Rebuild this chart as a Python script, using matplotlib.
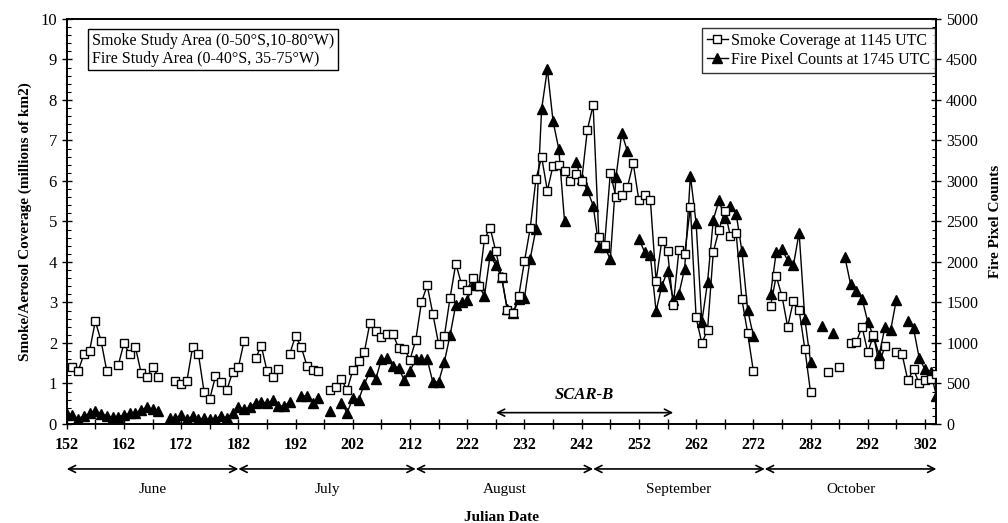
import numpy as np
import matplotlib
matplotlib.use('Agg')
from matplotlib import pyplot as plt
from matplotlib.ticker import MultipleLocator, FixedLocator

plt.rcParams['font.family'] = ['Liberation Serif', 'DejaVu Serif']

nan = np.nan
days = np.arange(152, 305)

# smoke coverage, millions of km2 (day 152 .. 304)
smoke = [
    nan, 1.40, 1.31, 1.72, 1.81, 2.54, 2.05, 1.31, nan, 1.45,
    1.99, 1.72, 1.90, 1.26, 1.15, 1.41, 1.17, nan, nan, 1.06,
    0.99, 1.06, 1.90, 1.74, 0.80, 0.62, 1.18, 1.04, 0.84, 1.29,
    1.40, 2.05, nan, 1.62, 1.93, 1.31, 1.17, 1.37, nan, 1.74,
    2.18, 1.89, 1.43, 1.33, 1.31, nan, 0.84, 0.92, 1.10, 0.84,
    1.33, 1.56, 1.77, 2.50, 2.30, 2.15, 2.23, 2.22, 1.88, 1.85,
    1.59, 2.07, 3.01, 3.42, 2.71, 1.97, 2.17, 3.12, 3.96, 3.45,
    3.32, 3.61, 3.40, 4.56, 4.84, 4.26, 3.63, 2.81, 2.73, 3.16,
    4.02, 4.83, 6.04, 6.59, 5.76, 6.38, 6.40, 6.24, 6.01, 6.17,
    6.01, 7.27, 7.87, 4.61, 4.43, 6.19, 5.60, 5.66, 5.85, 6.44,
    5.52, 5.66, 5.54, 3.53, 4.52, 4.27, 2.93, 4.29, 4.20, 5.35,
    2.63, 1.99, 2.33, 4.24, 4.80, 5.27, 4.63, 4.71, 3.08, 2.25,
    1.31, nan, nan, 2.91, 3.65, 3.16, 2.40, 3.04, 2.81, 1.86,
    0.78, nan, nan, 1.29, nan, 1.41, nan, 2.00, 2.03, 2.40,
    1.77, 2.19, 1.47, 1.93, nan, 1.78, 1.72, 1.08, 1.35, 1.00,
    1.08, 1.10, 1.23,
]

# fire pixel counts (day 152 .. 304)
fire = [
    123, 111, 62, 103, 131, 164, 123, 103, 82, 90,
    111, 131, 139, 172, 205, 181, 164, nan, 70, 70,
    111, 62, 98, 62, 70, 57, 62, 103, 70, 139,
    205, 181, 205, 263, 275, 255, 296, 222, 222, 275,
    nan, 349, 345, 263, 316, nan, 164, nan, 263, 139,
    316, 296, 489, 653, 554, 797, 809, 714, 686, 542,
    657, 797, 797, 797, 513, 521, 767, 1096, 1474, 1500,
    1527, 1712, 1712, 1580, 2080, 1960, 1814, 1420, 1365, 1540,
    1560, 2040, 2405, 3888, 4380, 3735, 3395, 2504, nan, 3230,
    3020, 2885, 2697, 2190, 2190, 2032, 3054, 3592, 3366, nan,
    2287, 2122, 2081, 1395, 1703, 1888, 1536, 1610, 1917, 3066,
    2479, 1260, 1752, 2521, 2759, 2546, 2685, 2595, 2134, 1413,
    1085, nan, nan, 1601, 2122, 2155, 2020, 1958, 2361, 1302,
    767, nan, 1211, nan, 1125, nan, 2060, 1724, 1638, 1548,
    1260, 1084, 850, 1199, 1158, 1536, nan, 1272, 1179, 809,
    674, 644, 345,
]

months = ['June', 'July', 'August', 'September', 'October']
month_edges = [152, 182, 213, 244, 274, 304]
scar_b = (227, 258)

fig = plt.figure(figsize=(10.08, 5.23), dpi=100)
ax = fig.add_axes([0.0662, 0.1893, 0.8628, 0.7745])
ax2 = ax.twinx()

l1, = ax.plot(days, smoke, color='k', lw=1, marker='s', ms=6, mfc='white',
              mec='k', mew=1, label='Smoke Coverage at 1145 UTC', zorder=3)
l2, = ax2.plot(days, fire, color='k', lw=1, marker='^', ms=7, mfc='k',
               mec='k', label='Fire Pixel Counts at 1745 UTC', zorder=2)
ax.set_zorder(ax2.get_zorder() + 1)
ax.patch.set_visible(False)

ax.set_xlim(152, 304)
ax.set_ylim(0, 10)
ax2.set_ylim(0, 5000)

ax.xaxis.set_major_locator(FixedLocator(np.arange(152, 303, 10)))
ax.xaxis.set_minor_locator(FixedLocator(np.arange(157, 304, 10)))
ax.yaxis.set_major_locator(MultipleLocator(1))
ax.yaxis.set_minor_locator(MultipleLocator(0.2))
ax2.yaxis.set_major_locator(MultipleLocator(500))
ax2.yaxis.set_minor_locator(MultipleLocator(100))

ax.tick_params(axis='x', which='both', direction='inout', length=7, width=1,
               labelsize=11.5, pad=6)
ax.tick_params(axis='y', which='major', direction='inout', length=7, width=1,
               labelsize=12)
ax.tick_params(axis='y', which='minor', direction='in', length=3, width=0.8)
ax2.tick_params(axis='y', which='major', direction='inout', length=7, width=1,
                labelsize=11.5)
ax2.tick_params(axis='y', which='minor', direction='in', length=3, width=0.8)
for a in (ax, ax2):
    for s in a.spines.values():
        s.set_linewidth(1.2)
for lab in ax.get_xticklabels():
    lab.set_fontweight('bold')

ax.set_ylabel('Smoke/Aerosol Coverage (millions of km2)', fontsize=11,
              fontweight='bold', labelpad=6)
ax2.set_ylabel('Fire Pixel Counts', fontsize=11, fontweight='bold',
               rotation=90, labelpad=8)

# month arrows under the axis
xt = ax.get_xaxis_transform()
for i, m in enumerate(months):
    a, b = month_edges[i], month_edges[i + 1]
    ax.annotate('', xy=(b, -0.111), xytext=(a, -0.111), xycoords=xt,
                textcoords=xt, annotation_clip=False,
                arrowprops=dict(arrowstyle='<->,head_length=0.5,head_width=0.25',
                                color='k', lw=1.2, shrinkA=0, shrinkB=0))
    ax.text((a + b) / 2, -0.162, m, transform=xt, ha='center', va='center',
            fontsize=11)
ax.text(228, -0.232, 'Julian Date', transform=xt, ha='center', va='center',
        fontsize=11, fontweight='bold')

# SCAR-B period
ax.annotate('', xy=(scar_b[1], 0.28), xytext=(scar_b[0], 0.28),
            arrowprops=dict(arrowstyle='<->,head_length=0.5,head_width=0.25',
                            color='k', lw=1.2, shrinkA=0, shrinkB=0))
ax.text(sum(scar_b) / 2, 0.72, 'SCAR-B', ha='center', va='center',
        fontsize=12, fontweight='bold', fontstyle='italic')

ax.text(0.029, 0.966, 'Smoke Study Area (0-50°S,10-80°W)\nFire Study Area (0-40°S, 35-75°W)',
        transform=ax.transAxes, ha='left', va='top', fontsize=11.5, linespacing=1.15,
        bbox=dict(boxstyle='square,pad=0.25', fc='white', ec='k', lw=1))

leg = ax.legend(handles=[l1, l2], loc='upper right', bbox_to_anchor=(0.998, 0.978),
                fontsize=11.5, frameon=True, fancybox=False, edgecolor='k',
                handlelength=1.3, handletextpad=0.2, borderpad=0.3,
                labelspacing=0.2, borderaxespad=0)
leg.get_frame().set_linewidth(1)

fig.savefig('out.png', dpi=100)
